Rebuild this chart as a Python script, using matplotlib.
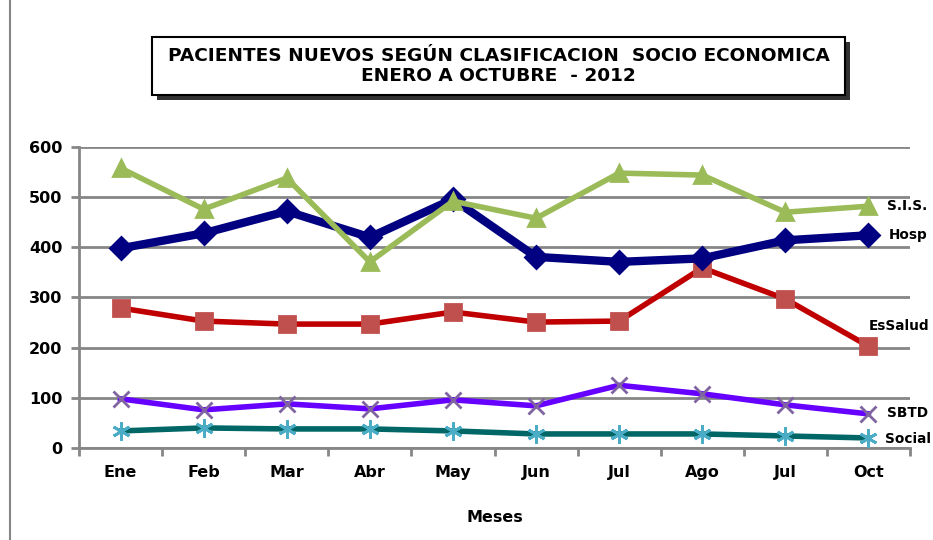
import matplotlib.pyplot as plt
from matplotlib.patches import Rectangle
from matplotlib.lines import Line2D

meses = ['Ene', 'Feb', 'Mar', 'Abr', 'May', 'Jun', 'Jul', 'Ago', 'Jul', 'Oct']
sis = [558, 476, 538, 371, 492, 458, 548, 544, 470, 482]
hosp = [398, 428, 472, 420, 496, 381, 371, 378, 414, 424]
essalud = [279, 253, 247, 247, 271, 251, 253, 359, 297, 203]
sbtd = [98, 76, 88, 78, 96, 84, 125, 108, 86, 68]
social = [34, 40, 38, 38, 34, 28, 28, 28, 24, 20]

fig = plt.figure(figsize=(9.33, 5.4), dpi=100)
ax = fig.add_axes([79 / 933, 1 - 448 / 540, (910 - 79) / 933, (448 - 147) / 540])

x = list(range(len(meses)))
grey = '#868686'

# series: (values, label, line colour, marker, marker colour, line width, marker size)
series = [
    (social, 'Social', '#006666', (6, 2, 0), '#4BACC6', 4, 13),
    (sbtd, 'SBTD', '#6600FF', 'x', '#8064A2', 4, 11),
    (essalud, 'EsSalud', '#C00000', 's', '#C0504D', 4, 11),
    (hosp, 'Hosp', '#000080', 'D', '#000080', 6, 11),
    (sis, 'S.I.S.', '#9BBB59', '^', '#9BBB59', 4, 12),
]
for vals, lab, lc, mk, mc, lw, ms in series:
    ax.plot(x, vals, color=lc, lw=lw, marker=mk, ms=ms, mfc=mc, mec=mc,
            mew=2, zorder=3, solid_joinstyle='miter')

# labels at the right edge
lbl_pos = {'S.I.S.': (9.22, 482), 'Hosp': (9.25, 424), 'EsSalud': (9.0, 243),
           'SBTD': (9.22, 70), 'Social': (9.2, 18)}
for lab, (lx, ly) in lbl_pos.items():
    ax.text(lx, ly, lab, fontsize=9.8, fontweight='bold', ha='left', va='center',
            clip_on=False)

ax.set_xlim(-0.5, 9.5)
ax.set_ylim(0, 600)
ax.set_yticks(range(0, 601, 100))
ax.yaxis.grid(True, color=grey, lw=2)
ax.set_axisbelow(True)
ax.set_xticks(x)
ax.set_xticklabels(meses, fontsize=11.5, fontweight='bold')
ax.set_xticks([i - 0.5 for i in range(len(meses) + 1)], minor=True)
ax.tick_params(axis='x', which='major', length=0, pad=12)
ax.tick_params(axis='x', which='minor', length=6, width=2, color=grey)
ax.tick_params(axis='y', length=6, width=2, color=grey, pad=6)
for t in ax.get_yticklabels():
    t.set_fontsize(11.5)
    t.set_fontweight('bold')
for s in ['top', 'right']:
    ax.spines[s].set_visible(False)
for s in ['left', 'bottom']:
    ax.spines[s].set_color(grey)
    ax.spines[s].set_linewidth(2)
ax.set_xlabel('Meses', fontsize=11.5, fontweight='bold', labelpad=22)

# title box with shadow
bx, by, bw, bh = 152 / 933, 1 - 95 / 540, (845 - 152) / 933, (95 - 37) / 540
fig.patches.append(Rectangle((bx + 5 / 933, by - 5 / 540), bw, bh, transform=fig.transFigure,
                             facecolor='#333333', edgecolor='none', zorder=1))
fig.patches.append(Rectangle((bx, by), bw, bh, transform=fig.transFigure,
                             facecolor='white', edgecolor='black', lw=1.5, zorder=2))
fig.text(bx + bw / 2, by + bh / 2,
         'PACIENTES NUEVOS SEGÚN CLASIFICACION  SOCIO ECONOMICA\nENERO A OCTUBRE  - 2012',
         ha='center', va='center', fontsize=13.3, fontweight='bold', linespacing=1.2, zorder=3)

# outer chart border on left
fig.lines.append(Line2D([10 / 933, 10 / 933], [0, 1], transform=fig.transFigure,
                        color=grey, lw=1.5))

fig.savefig('out.png', dpi=100)
